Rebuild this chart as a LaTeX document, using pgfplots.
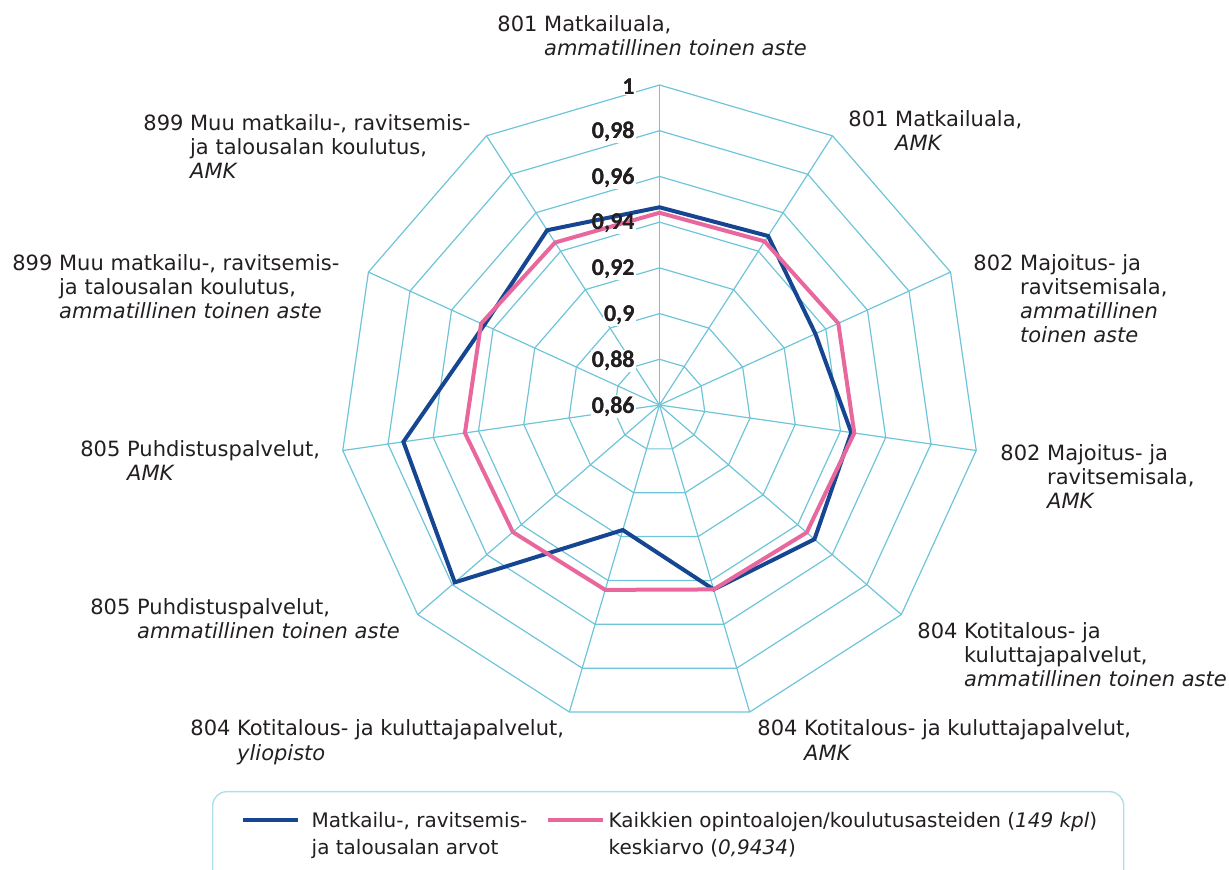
\documentclass[border=0pt]{standalone}
\usepackage{fontspec}
\setmainfont{DejaVu Sans}
\newfontfamily\tickfont{Carlito}
\usepackage{pgfplots}
\pgfplotsset{compat=1.18}
\usepgfplotslibrary{polar}
\definecolor{gridc}{RGB}{110,196,216}
\definecolor{navy}{RGB}{22,70,145}
\definecolor{pinkc}{RGB}{232,104,157}
\definecolor{txt}{RGB}{35,31,32}
\newcommand{\lab}[2]{#1 \begin{tabular}[t]{@{}l@{}}#2\end{tabular}}
\newcommand{\tl}{\tickfont\bfseries\fontsize{12}{14}\selectfont}
\begin{document}
\begin{tikzpicture}
\path[use as bounding box] (-329.75pt,202.5pt) rectangle (284.75pt,-232.5pt);
\begin{polaraxis}[
  at={(0pt,0pt)}, anchor=origin,
  hide axis, clip=false, scale only axis,
  width=320pt, height=320pt,
  xmin=0, xmax=360, ymin=0, ymax=0.14,
  every axis plot/.append style={y filter/.expression={y-0.86}},
  legend columns=2,
  legend image code/.code={\draw[#1] (0pt,3.8pt) -- (27.5pt,3.8pt);},
  legend style={at={(-0.1992,-0.1031)}, anchor=north west,
    draw=gridc!55, line width=0.7pt, rounded corners=7pt,
    inner xsep=14pt, inner ysep=8.5pt,
    font=\fontsize{10}{13.5}\selectfont, text=txt,
    cells={anchor=base west}, nodes={inner sep=0pt, text depth=},
    /tikz/every odd column/.append style={column sep=2pt},
    /tikz/every even column/.append style={column sep=5pt}},
]
% rings
\pgfplotsinvokeforeach{0.88,0.90,0.92,0.94,0.96,0.98,1}{
  \addplot[gridc, line width=0.6pt, forget plot] coordinates {(90,#1) (57.2727,#1) (24.5455,#1) (-8.1818,#1) (-40.9091,#1) (-73.6364,#1) (-106.3636,#1) (-139.0909,#1) (-171.8182,#1) (-204.5455,#1) (-237.2727,#1)} -- cycle;
}
% spokes
\pgfplotsinvokeforeach{90,57.2727,24.5455,-8.1818,-40.9091,-73.6364,-106.3636,-139.0909,-171.8182,-204.5455,-237.2727}{
  \addplot[gridc, line width=0.6pt, forget plot] coordinates {(#1,0.86) (#1,1)};
}
% tick label backgrounds
\foreach \r/\t in {0/{0,86},0.02/{0,88},0.04/{0,9},0.06/{0,92},0.08/{0,94},0.1/{0,96},0.12/{0,98},0.14/1}{
  \edef\temp{\noexpand\node[anchor=east, fill=white, inner sep=0.6pt, font=\noexpand\tl, text=txt, xshift=-11.65pt, yshift=-0.75pt] at (axis cs:90,\r) {\t};}
  \temp
}
\addplot[navy, line width=2pt, line join=miter] coordinates {
  (90,0.9465) (57.2727,0.9479) (24.5455,0.935) (-8.1818,0.9448) (-40.9091,0.9497) (-73.6364,0.9441)
  (-106.3636,0.917) (-139.0909,0.9785) (-171.8182,0.9732) (-204.5455,0.9443) (-237.2727,0.9509)} -- cycle;
\addlegendentry{\hspace*{4pt}\makebox[112pt][l]{\begin{tabular}[t]{@{}l@{}}Matkailu-, ravitsemis-\\ja talousalan arvot\rule[-8pt]{0pt}{0pt}\end{tabular}}}
\addplot[pinkc, line width=2pt, line join=miter] coordinates {
  (90,0.9441) (57.2727,0.9451) (24.5455,0.946) (-8.1818,0.9461) (-40.9091,0.9452) (-73.6364,0.9441)
  (-106.3636,0.9443) (-139.0909,0.9449) (-171.8182,0.946) (-204.5455,0.9458) (-237.2727,0.9445)} -- cycle;
\addlegendentry{\makebox[243.5pt][l]{\begin{tabular}[t]{@{}l@{}}Kaikkien opintoalojen/koulutusasteiden (\textit{149 kpl})\\keskiarvo (\textit{0,9434})\rule[-8pt]{0pt}{0pt}\end{tabular}}}
\foreach \r/\t in {0/{0,86},0.02/{0,88},0.04/{0,9},0.06/{0,92},0.08/{0,94},0.1/{0,96},0.12/{0,98},0.14/1}{
  \edef\temp{\noexpand\node[anchor=east, inner sep=0.6pt, font=\noexpand\tl, text=txt, xshift=-11.65pt, yshift=-0.75pt] at (axis cs:90,\r) {\t};}
  \temp
}
\end{polaraxis}
\begin{scope}[every node/.style={anchor=base west, inner sep=0pt, text=txt, font=\fontsize{10.5}{12}\selectfont}]
\node at (-81.25pt,186.5pt) {\lab{801}{Matkailuala,\\\textit{ammatillinen toinen aste}}};
\node at (94.25pt,139pt) {\lab{801}{Matkailuala,\\\textit{AMK}}};
\node at (156.75pt,67pt) {\lab{802}{Majoitus- ja\\ravitsemisala,\\\textit{ammatillinen}\\\textit{toinen aste}}};
\node at (170.25pt,-28pt) {\lab{802}{Majoitus- ja\\ravitsemisala,\\\textit{AMK}}};
\node at (128.75pt,-117pt) {\lab{804}{Kotitalous- ja\\kuluttajapalvelut,\\\textit{ammatillinen toinen aste}}};
\node at (48.75pt,-165.5pt) {\lab{804}{Kotitalous- ja kuluttajapalvelut,\\\textit{AMK}}};
\node at (-234.75pt,-165.5pt) {\lab{804}{Kotitalous- ja kuluttajapalvelut,\\\textit{yliopisto}}};
\node at (-284.75pt,-105pt) {\lab{805}{Puhdistuspalvelut,\\\textit{ammatillinen toinen aste}}};
\node at (-289.75pt,-26pt) {\lab{805}{Puhdistuspalvelut,\\\textit{AMK}}};
\node at (-323.75pt,67pt) {\lab{899}{Muu matkailu-, ravitsemis-\\ja talousalan koulutus,\\\textit{ammatillinen toinen aste}}};
\node at (-258.25pt,137pt) {\lab{899}{Muu matkailu-, ravitsemis-\\ja talousalan koulutus,\\\textit{AMK}}};
\end{scope}
\end{tikzpicture}
\end{document}
